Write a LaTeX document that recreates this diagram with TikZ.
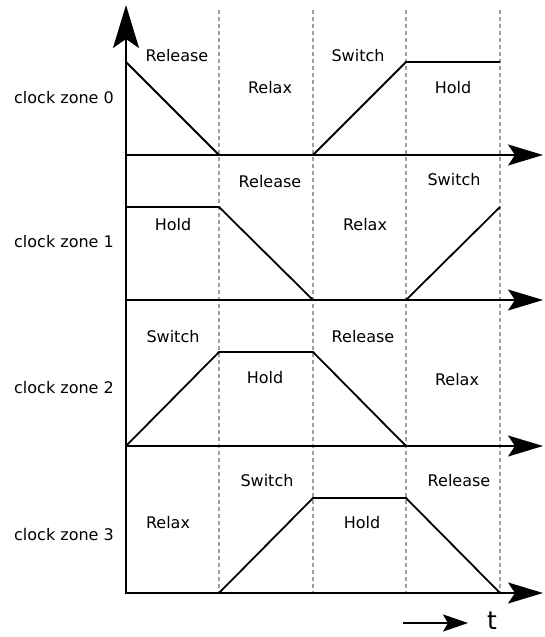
\documentclass[tikz,border=0pt]{standalone}
\usepackage{fontspec}
\setmainfont{DejaVu Sans}
\usetikzlibrary{arrows.meta}
\begin{document}
\begin{tikzpicture}[x=1pt,y=-1pt,
  haxis/.style={line width=2pt,-{Stealth[length=35pt,width=21pt,inset=7pt]}},
  vaxis/.style={line width=2pt,-{Stealth[length=43pt,width=26pt,inset=9pt]}},
  wave/.style={line width=1.8pt,line join=miter},
  phase/.style={gray!75,line width=1.4pt,dash pattern=on 4pt off 3pt},
  lbl/.style={font=\fontsize{16}{19}\selectfont,inner sep=0pt},
  tlbl/.style={font=\fontsize{25}{30}\selectfont,inner sep=0pt}]
\useasboundingbox (0,0) rectangle (545,637);

% phase boundaries
\foreach \px in {219,313,406,500}
  \draw[phase] (\px,10) -- (\px,593);

% time axes of the four zones
\coordinate (o0) at (126,155);
\coordinate (o1) at (126,300);
\coordinate (o2) at (126,446);
\coordinate (o3) at (126,593);
\foreach \z in {0,1,2,3}
  \draw[haxis] (o\z) -- ([xshift=417pt]o\z);
\coordinate (top) at (126,5);
\draw[vaxis,line cap=rect] (o3) -- (top);

% clock waveforms
\draw[wave] (126,62) -- (219,155) -- (313,155) -- (406,62) -- (500,62);
\draw[wave] (126,207) -- (219,207) -- (313,300) -- (406,300) -- (500,207);
\draw[wave] (126,446) -- (219,352) -- (313,352) -- (406,446);
\draw[wave] (219,593) -- (313,498) -- (406,498) -- (500,593);

% zone names
\node[lbl] (z0) at (64,98) {clock zone 0};
\node[lbl] (z1) at (64,242) {clock zone 1};
\node[lbl] (z2) at (64,388) {clock zone 2};
\node[lbl] (z3) at (64,535) {clock zone 3};

% phase names, zone 0
\node[lbl] (a0) at (177,56) {Release};
\node[lbl] (a1) at (270,88) {Relax};
\node[lbl] (a2) at (358,56) {Switch};
\node[lbl] (a3) at (453,88) {Hold};
% zone 1
\node[lbl] (b0) at (173,225) {Hold};
\node[lbl] (b1) at (270,182) {Release};
\node[lbl] (b2) at (365,225) {Relax};
\node[lbl] (b3) at (454,180) {Switch};
% zone 2
\node[lbl] (c0) at (173,337) {Switch};
\node[lbl] (c1) at (265,378) {Hold};
\node[lbl] (c2) at (363,337) {Release};
\node[lbl] (c3) at (457,380) {Relax};
% zone 3
\node[lbl] (d0) at (168,523) {Relax};
\node[lbl] (d1) at (267,481) {Switch};
\node[lbl] (d2) at (362,523) {Hold};
\node[lbl] (d3) at (459,481) {Release};

% time direction
\coordinate (ts) at (403,623);
\node[tlbl] (t) at (492,621) {t};
\draw[line width=2pt,-{Stealth[length=25pt,width=17pt,inset=5pt]}] (ts) -- (468,623);
\end{tikzpicture}
\end{document}
